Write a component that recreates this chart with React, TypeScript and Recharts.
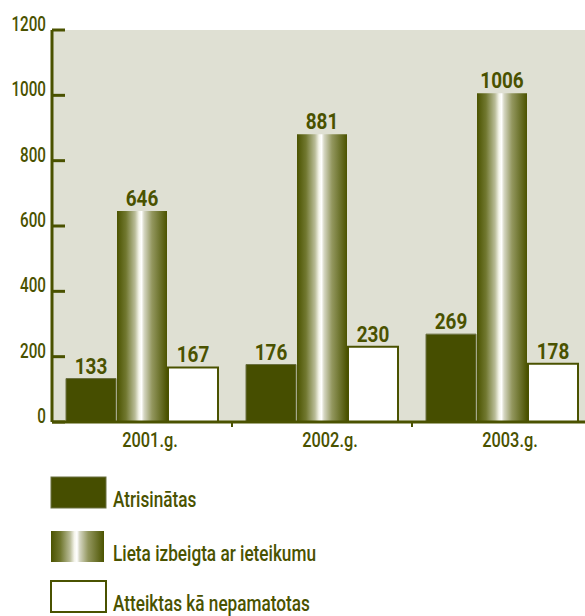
import React from "react";
import { BarChart, Bar, XAxis, YAxis, CartesianGrid, LabelList } from "recharts";

const years = ["2001.g.", "2002.g.", "2003.g."];
const resolved = [133, 176, 269];
const closedWithAdvice = [646, 881, 1006];
const rejected = [167, 230, 178];
const seriesNames = ["Atrisinātas", "Lieta izbeigta ar ieteikumu", "Atteiktas kā nepamatotas"];
const yTicks = [0, 200, 400, 600, 800, 1000, 1200];

const OLIVE = "#4a5200";
const DARK = "#464e00";
const BG = "#dfe0d3";
const FONT = "Roboto, 'Liberation Sans', sans-serif";

const data = years.map((year, i) => ({
  year,
  a: resolved[i],
  b: closedWithAdvice[i],
  c: rejected[i],
}));

const GradStops = () => (
  <>
    <stop offset="0%" stopColor="#4b5300" />
    <stop offset="18%" stopColor="#717830" />
    <stop offset="36%" stopColor="#b9bc98" />
    <stop offset="44%" stopColor="#f4f4ea" />
    <stop offset="49%" stopColor="#ffffff" />
    <stop offset="54%" stopColor="#d6d7c4" />
    <stop offset="70%" stopColor="#93975f" />
    <stop offset="100%" stopColor="#4b5300" />
  </>
);

// condensed look: the original uses a narrow typeface
const NarrowText = ({ x, y, anchor = "start", size, weight = 500, sx = 0.78, children }: any) => (
  <text
    x={0}
    y={0}
    transform={`translate(${x} ${y}) scale(${sx} 1)`}
    textAnchor={anchor}
    fill={OLIVE}
    fontSize={size}
    fontWeight={weight}
    fontFamily={FONT}
  >
    {children}
  </text>
);

const YTick = (props: any) => {
  const { x, y, payload } = props;
  return (
    <g>
      <line x1={x + 6} x2={x + 19} y1={y} y2={y} stroke={OLIVE} strokeWidth={3} />
      <NarrowText x={x} y={y + 1} anchor="end" size={19.5}>
        {payload.value}
      </NarrowText>
    </g>
  );
};

const XTick = (props: any) => {
  const { x, y, payload, index } = props;
  const half = payload.offset ?? 90;
  return (
    <g>
      {index > 0 && (
        <line x1={x - half} x2={x - half} y1={y} y2={y + 5} stroke={OLIVE} strokeWidth={2} />
      )}
      <line x1={x + half} x2={x + half} y1={y} y2={y + 5} stroke={OLIVE} strokeWidth={2} />
      <NarrowText x={x + 8} y={y + 25} anchor="middle" size={21}>
        {payload.value}
      </NarrowText>
    </g>
  );
};

const ValueLabel = (props: any) => {
  const { x, y, width, value } = props;
  return (
    <NarrowText x={x + width / 2} y={y - 5} anchor="middle" size={22} weight={700} sx={0.86}>
      {value}
    </NarrowText>
  );
};

const Legend = () => {
  const rows = [477, 531, 581];
  return (
    <svg width={585} height={146} style={{ position: "absolute", left: 0, top: 470 }}>
      <defs>
        <linearGradient id="legendGrad" x1="0" y1="0" x2="1" y2="0">
          <GradStops />
        </linearGradient>
      </defs>
      {seriesNames.map((name, i) => {
        const top = rows[i] - 470;
        const fill = i === 0 ? DARK : i === 1 ? "url(#legendGrad)" : "#ffffff";
        const stroke = i === 0 ? "#6a7040" : i === 2 ? OLIVE : "none";
        return (
          <g key={name}>
            <rect x={51} y={top} width={i === 1 ? 53 : 55} height={31} fill={fill} stroke={stroke} strokeWidth={i === 2 ? 2 : 1} />
            <NarrowText x={113} y={top + 30} size={21.5} sx={0.8}>
              {name}
            </NarrowText>
          </g>
        );
      })}
    </svg>
  );
};

export default function App() {
  return (
    <div style={{ position: "absolute", left: 0, top: 0, width: 585, height: 616, overflow: "hidden", background: "#fff" }}>
      <BarChart
        width={600}
        height={460}
        data={data}
        margin={{ top: 30, right: 8, left: 0, bottom: 8 }}
        barGap={1}
        barSize={50}
      >
        <defs>
          <linearGradient id="barGrad" x1="0" y1="0" x2="1" y2="0">
            <GradStops />
          </linearGradient>
        </defs>
        <CartesianGrid horizontal={false} vertical={false} fill={BG} />
        <XAxis
          dataKey="year"
          height={30}
          tickSize={0}
          tickMargin={0}
          axisLine={{ stroke: OLIVE, strokeWidth: 3 }}
          tickLine={false}
          tick={<XTick />}
          interval={0}
        />
        <YAxis
          width={52}
          domain={[0, 1200]}
          ticks={yTicks}
          tickSize={0}
          tickMargin={6}
          axisLine={{ stroke: OLIVE, strokeWidth: 3 }}
          tickLine={false}
          tick={<YTick />}
          interval={0}
        />
        <Bar dataKey="a" name={seriesNames[0]} fill={DARK} stroke="#6a7040" strokeWidth={1} isAnimationActive={false}>
          <LabelList dataKey="a" content={<ValueLabel />} />
        </Bar>
        <Bar dataKey="b" name={seriesNames[1]} fill="url(#barGrad)" isAnimationActive={false}>
          <LabelList dataKey="b" content={<ValueLabel />} />
        </Bar>
        <Bar dataKey="c" name={seriesNames[2]} fill="#ffffff" stroke={OLIVE} strokeWidth={2} isAnimationActive={false}>
          <LabelList dataKey="c" content={<ValueLabel />} />
        </Bar>
      </BarChart>
      <Legend />
    </div>
  );
}
